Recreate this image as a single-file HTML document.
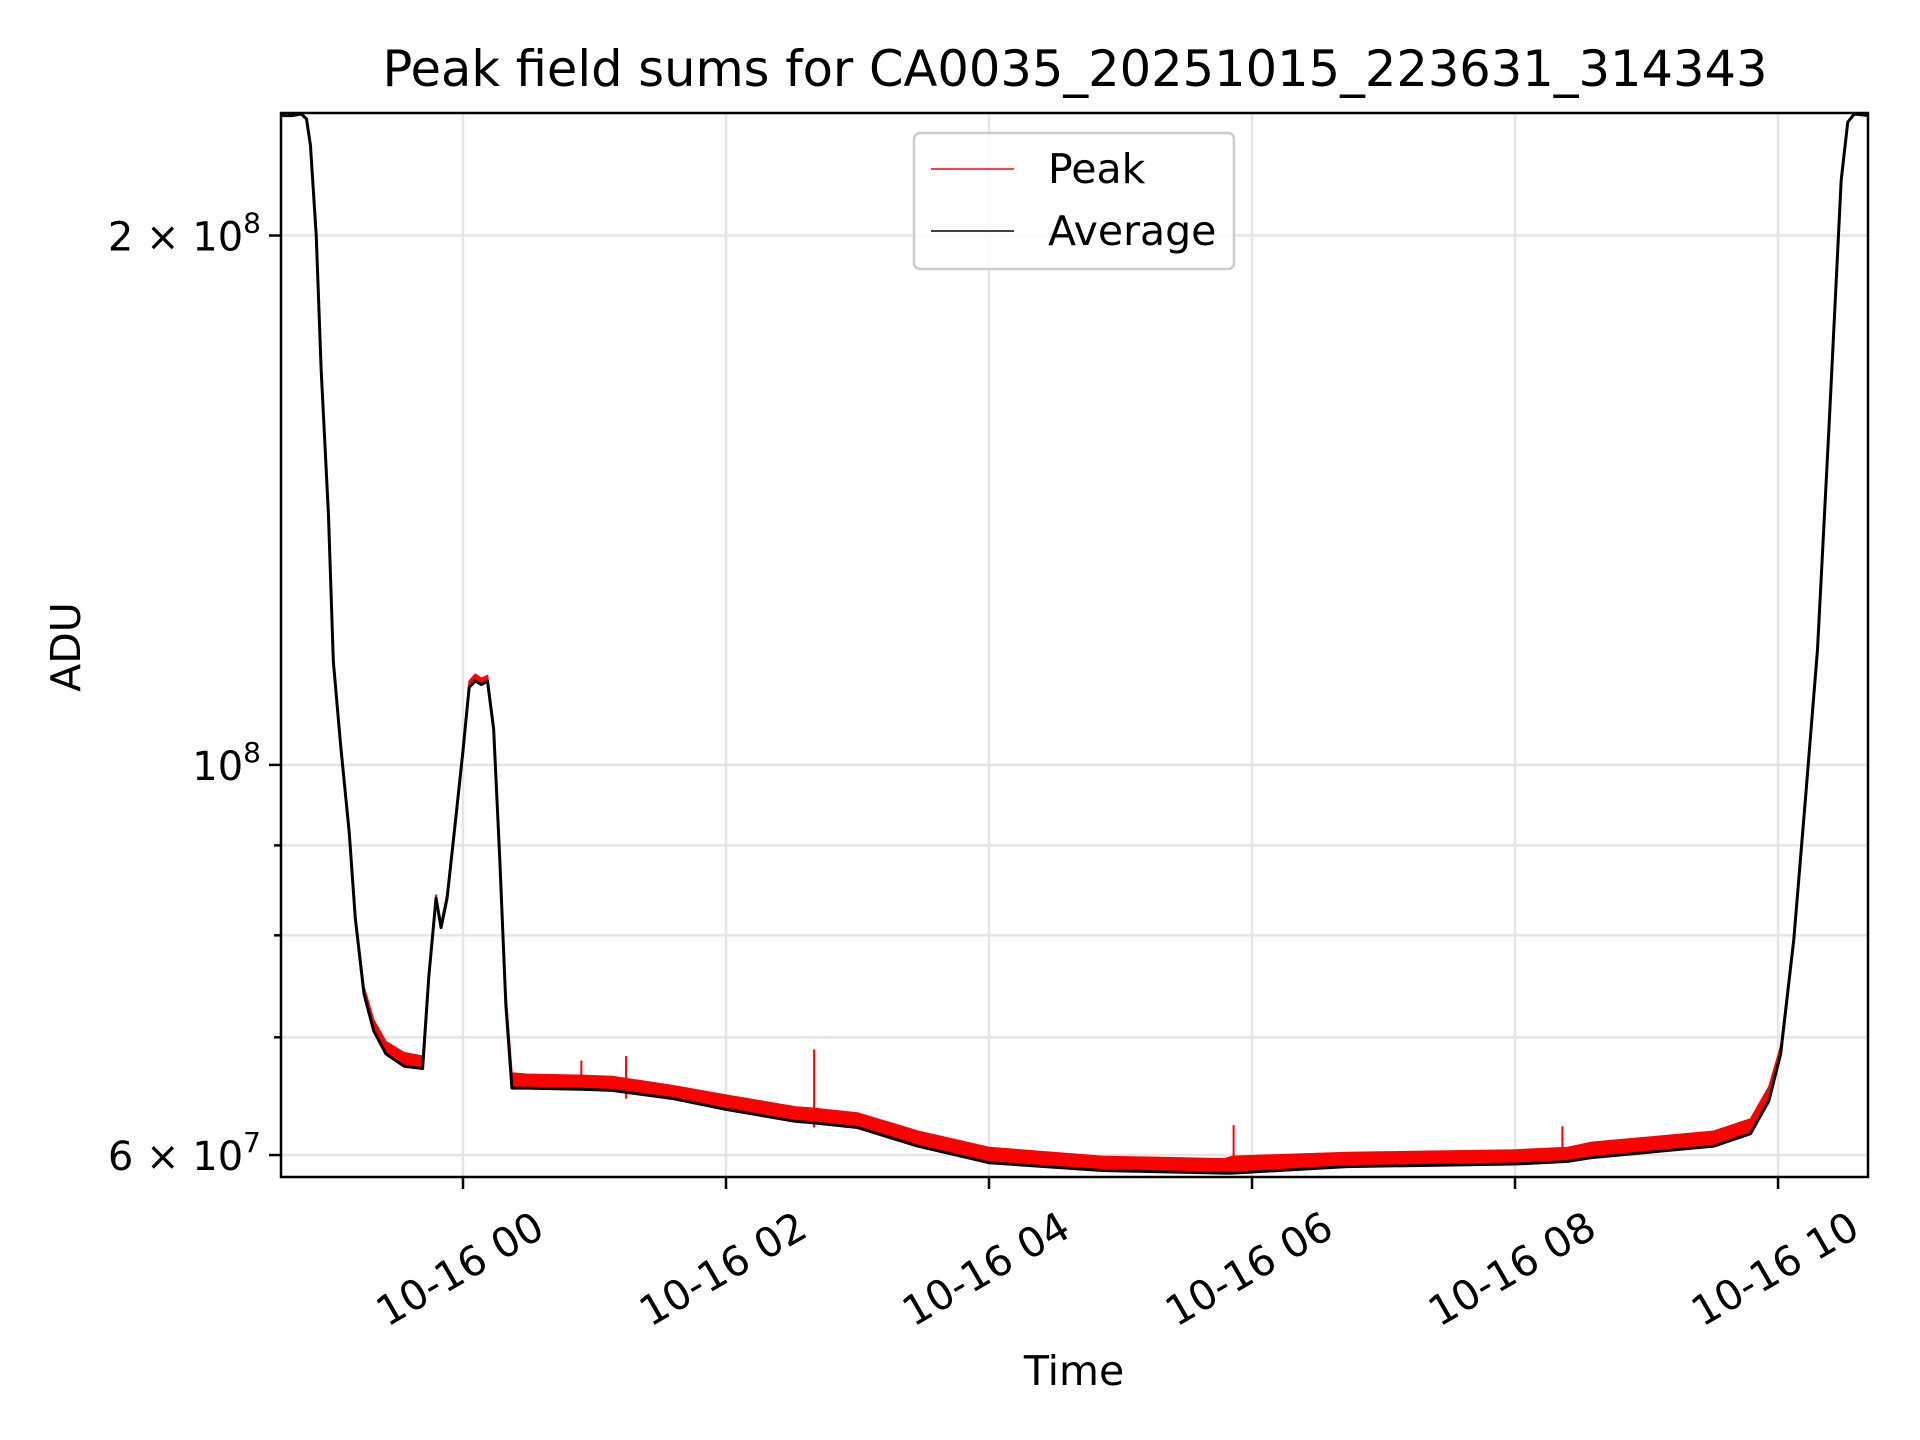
<!DOCTYPE html>
<html><head><meta charset="utf-8"><style>
html,body{margin:0;padding:0;background:#fff;}
svg{display:block;font-family:"DejaVu Sans","Liberation Sans",sans-serif;}
</style></head><body>
<svg id="chart" width="1920" height="1440" viewBox="0 0 1920 1440" xmlns="http://www.w3.org/2000/svg">
<rect width="1920" height="1440" fill="#fff"/>
<text x="1075" y="86" font-size="49.5" text-anchor="middle">Peak field sums for CA0035_20251015_223631_314343</text>
<g id="grid"></g>
<g id="plot"></g>
<g id="axes"></g>
<text x="0" y="0" font-size="41" text-anchor="middle" transform="translate(80,647) rotate(-90)">ADU</text>
<text x="1074" y="1385" font-size="41" text-anchor="middle">Time</text>
<g>
<rect x="914" y="133" width="320" height="136" rx="6" fill="#fff" fill-opacity="0.8" stroke="#ccc" stroke-width="2.5"/>
<line x1="931" y1="169" x2="1014" y2="169" stroke="#f00" stroke-width="1.5"/>
<text x="1048" y="183" font-size="41">Peak</text>
<line x1="931" y1="231" x2="1014" y2="231" stroke="#000" stroke-width="1.5"/>
<text x="1048" y="245" font-size="41">Average</text>
</g>
</svg>
<script>
// hours relative to 10-16 00:00
const hours = [-1.39,-1.3,-1.23,-1.19,-1.16,-1.116,-1.079,-1.023,-0.986,-0.93,-0.865,-0.819,-0.753,-0.679,-0.586,-0.447,-0.307,-0.26,-0.205,-0.167,-0.121,-0.056,0,0.047,0.093,0.14,0.186,0.233,0.279,0.326,0.372,0.484,0.9,1.135,1.6,2.0,2.53,2.65,3.0,3.46,4.0,4.86,5.79,5.85,6.72,8.0,8.4,8.58,9.51,9.79,9.93,10.02,10.12,10.21,10.3,10.39,10.48,10.53,10.58,10.69];
// average values (units of 1e6 ADU)
const avgValues = [234,234,234.5,233,225,200,168,138.7,114.5,102.5,91.5,81.8,74.1,70.6,68.5,67.4,67.2,75.8,84.0,80.8,84.0,93.1,101.9,110.7,111.6,111.1,111.6,104.8,88.6,73.0,65.5,65.5,65.4,65.3,64.6,63.7,62.7,62.6,62.2,60.7,59.4,58.8,58.6,58.6,59.1,59.3,59.5,59.8,60.7,61.7,64.4,68.5,79.6,96.0,116.3,157.0,215,232,234.5,234];
// peak values (units of 1e6 ADU)
const peakValues = [234,234,234.5,233,225,201,169,139.5,115,103,92,82.3,74.8,71.6,69.6,68.6,68.3,76.3,84.4,81.3,84.5,93.6,102.3,111.6,112.6,112,112.4,105.4,89.2,74.2,66.8,66.7,66.6,66.5,65.7,64.9,63.9,63.8,63.4,61.9,60.6,59.9,59.7,59.9,60.2,60.4,60.6,61.0,61.9,62.9,65.6,69.2,80.0,96.5,116.8,157.5,216,232,234.5,234];
// isolated peak spikes
const spikeHours = [0.9,1.24,2.67,5.86,8.36];
const spikeValues = [67.9,68.3,68.9,62.4,62.3];
const xTickHours = [0,2,4,6,8,10];
const xTickLabels = ["10-16 00","10-16 02","10-16 04","10-16 06","10-16 08","10-16 10"];
const yMajorValues = [200,100,60];
const yMinorValues = [70,80,90];

const L=281,R=1868,T=113,B=1177;
const hMin=-1.384, hMax=10.684;
const vTop=234.8, vBot=58.3;
const x=h=>L+(h-hMin)/(hMax-hMin)*(R-L);
const y=v=>T+(Math.log10(vTop)-Math.log10(v))/(Math.log10(vTop)-Math.log10(vBot))*(B-T);
const NS="http://www.w3.org/2000/svg";
function mk(tag,parent){const e=document.createElementNS(NS,tag);parent.appendChild(e);return e;}
const grid=document.getElementById('grid'),plot=document.getElementById('plot'),axes=document.getElementById('axes');

xTickHours.forEach((h,i)=>{
  const g=mk('line',grid);
  
  
  g.setAttribute('x1',x(h));g.setAttribute('x2',x(h));g.setAttribute('y1',T);g.setAttribute('y2',B);
  g.setAttribute('stroke','#e5e5e5');g.setAttribute('stroke-width','2.5');
  const t=mk('line',axes);
  
  
  t.setAttribute('x1',x(h));t.setAttribute('x2',x(h));t.setAttribute('y1',B);t.setAttribute('y2',B+12);
  t.setAttribute('stroke','#000');t.setAttribute('stroke-width','2.5');
  const lb=mk('text',axes);
  
  
  lb.setAttribute('font-size','41');lb.setAttribute('text-anchor','middle');
  lb.setAttribute('transform',`translate(${x(h)-3},${B+92}) rotate(-30)`);
  lb.setAttribute('dy','14');
  lb.textContent=xTickLabels[i];
});
yMajorValues.concat(yMinorValues).forEach(v=>{
  const g=mk('line',grid);
  
  
  g.setAttribute('x1',L);g.setAttribute('x2',R);g.setAttribute('y1',y(v));g.setAttribute('y2',y(v));
  g.setAttribute('stroke','#e5e5e5');g.setAttribute('stroke-width','2.5');
  const major=yMajorValues.includes(v);
  const t=mk('line',axes);
  
  
  t.setAttribute('x1',L-(major?12:7));t.setAttribute('x2',L);t.setAttribute('y1',y(v));t.setAttribute('y2',y(v));
  t.setAttribute('stroke','#000');t.setAttribute('stroke-width','2.5');
});
function yLabel(v,html){
  const lb=mk('text',axes);
  
  
  lb.setAttribute('font-size','40');lb.setAttribute('text-anchor','end');
  lb.setAttribute('x',L-20);lb.setAttribute('y',y(v)+15);
  lb.innerHTML=html;
}
yLabel(200,'2 × 10<tspan dy="-18" font-size="28">8</tspan>');
yLabel(100,'10<tspan dy="-18" font-size="28">8</tspan>');
yLabel(60,'6 × 10<tspan dy="-18" font-size="28">7</tspan>');

const clip=mk('clipPath',plot);clip.setAttribute('id','clipr');
const cr=mk('rect',clip);cr.setAttribute('x',L);cr.setAttribute('y',T);cr.setAttribute('width',R-L);cr.setAttribute('height',B-T);
const band=mk('polygon',plot);


const pts=hours.map((h,i)=>x(h)+','+y(peakValues[i])).concat(hours.slice().reverse().map((h,i)=>x(h)+','+y(avgValues[hours.length-1-i])));
band.setAttribute('points',pts.join(' '));
band.setAttribute('fill','#f00');band.setAttribute('stroke','#f00');band.setAttribute('stroke-width','1.5');
band.setAttribute('clip-path','url(#clipr)');
spikeHours.forEach((h,i)=>{
  const s=mk('line',plot);
  
  
  const ai=hours.findIndex(v=>v>=h);
  s.setAttribute('x1',x(h));s.setAttribute('x2',x(h));s.setAttribute('y1',y(spikeValues[i]));s.setAttribute('y2',y(avgValues[ai]));
  s.setAttribute('stroke','#f00');s.setAttribute('stroke-width','2');
});
const avg=mk('polyline',plot);


avg.setAttribute('points',hours.map((h,i)=>x(h)+','+y(avgValues[i])).join(' '));
avg.setAttribute('fill','none');avg.setAttribute('stroke','#000');avg.setAttribute('stroke-width','3');avg.setAttribute('stroke-linejoin','round');
avg.setAttribute('clip-path','url(#clipr)');

const frame=mk('rect',axes);


frame.setAttribute('x',L);frame.setAttribute('y',T);frame.setAttribute('width',R-L);frame.setAttribute('height',B-T);
frame.setAttribute('fill','none');frame.setAttribute('stroke','#000');frame.setAttribute('stroke-width','2.5');
</script>
</body></html>
